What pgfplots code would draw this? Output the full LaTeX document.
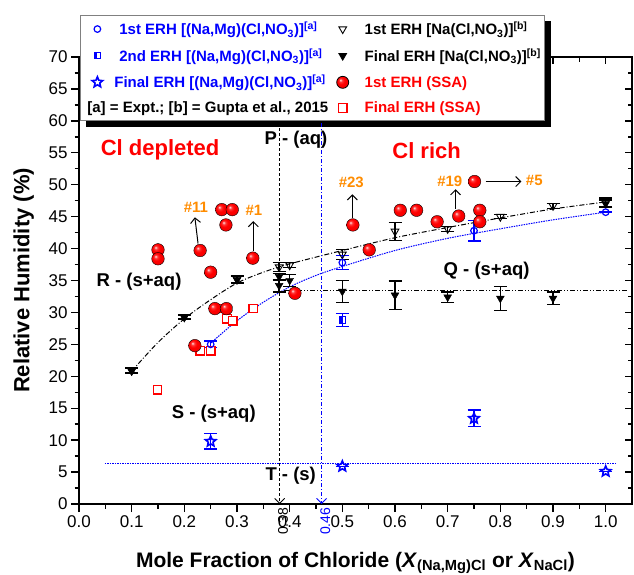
\documentclass[border=0pt]{standalone}
\usepackage{fontspec}
\setmainfont{Liberation Sans}
\usepackage{pgfplots}
\pgfplotsset{compat=1.18}
\usetikzlibrary{arrows.meta}
\definecolor{myorange}{RGB}{255,140,0}
\newcommand{\fs}[1]{\fontsize{#1}{#1}\selectfont}
\makeatletter
\pgfdeclareradialshading[tikz@ball]{ball}{\pgfqpoint{-10bp}{10bp}}{%
 color(0bp)=(tikz@ball!10!white); color(7bp)=(tikz@ball!80!white); color(15bp)=(tikz@ball);
 color(35bp)=(tikz@ball!92!black); color(50bp)=(tikz@ball!75!black)}
\makeatother
\pgfdeclareplotmark{fivestar}{%
  \pgfpathmoveto{\pgfqpointpolar{90}{\pgfplotmarksize}}%
  \pgfpathlineto{\pgfqpointpolar{126}{0.45\pgfplotmarksize}}%
  \pgfpathlineto{\pgfqpointpolar{162}{\pgfplotmarksize}}%
  \pgfpathlineto{\pgfqpointpolar{198}{0.45\pgfplotmarksize}}%
  \pgfpathlineto{\pgfqpointpolar{234}{\pgfplotmarksize}}%
  \pgfpathlineto{\pgfqpointpolar{270}{0.45\pgfplotmarksize}}%
  \pgfpathlineto{\pgfqpointpolar{306}{\pgfplotmarksize}}%
  \pgfpathlineto{\pgfqpointpolar{342}{0.45\pgfplotmarksize}}%
  \pgfpathlineto{\pgfqpointpolar{18}{\pgfplotmarksize}}%
  \pgfpathlineto{\pgfqpointpolar{54}{0.45\pgfplotmarksize}}%
  \pgfpathclose\pgfusepathqstroke}
\pgfdeclareplotmark{hsq}{%
  \pgfpathrectangle{\pgfqpoint{-\pgfplotmarksize}{-\pgfplotmarksize}}{\pgfqpoint{\pgfplotmarksize}{2\pgfplotmarksize}}%
  \pgfusepathqfill
  \pgfpathrectangle{\pgfqpoint{-\pgfplotmarksize}{-\pgfplotmarksize}}{\pgfqpoint{2\pgfplotmarksize}{2\pgfplotmarksize}}%
  \pgfusepathqstroke}
\pgfplotsset{legimg/.style={legend image code/.code={\path[draw=none,fill=none] (-15pt,-4pt) rectangle (20pt,4pt); \draw[##1] plot coordinates {(0pt,0pt)};}}}
\pgfdeclarelayer{bg}
\pgfsetlayers{bg,main}
\begin{document}
\begin{tikzpicture}[x=1pt,y=1pt]
\useasboundingbox (0,0) rectangle (634,574);
% frame with inward ticks on top and right
\begin{axis}[
  at={(79pt,70pt)}, anchor=south west,
  width=553pt, height=447pt, scale only axis,
  xmin=0, xmax=1.05, ymin=0, ymax=70,
  axis line style={line width=1.8pt},
  xtick={0,0.1,...,1.0}, ytick={0,5,...,70},
  minor x tick num=1, minor y tick num=1,
  xtick pos=right, ytick pos=right, tick align=inside,
  xticklabels={}, yticklabels={},
  major tick length=7pt, minor tick length=4.5pt,
  every tick/.style={line width=1.4pt, black},
]
\end{axis}
\begin{axis}[
  at={(79pt,70pt)}, anchor=south west,
  width=553pt, height=447pt, scale only axis,
  xmin=0, xmax=1.05, ymin=0, ymax=70,
  axis line style={line width=1.8pt},
  xtick={0,0.1,...,1.0}, ytick={0,5,...,70},
  minor x tick num=1, minor y tick num=1,
  xtick pos=left, ytick pos=left, tick align=outside,
  major tick length=8pt, minor tick length=4.5pt,
  every tick/.style={line width=1.4pt, black},
  /pgf/number format/assume math mode=true,
  xticklabel style={/pgf/number format/.cd, fixed, fixed zerofill, precision=1},
  every tick label/.append style={font=\fs{17}},
  extra x ticks={0.38,0.46},
  extra x tick labels={0.38,\textcolor{blue}{0.46}},
  extra x tick style={major tick length=0pt,
     tick label style={rotate=90, anchor=east, font=\fs{14}, yshift=-4pt}},
  xlabel={\bfseries Mole Fraction of Chloride (\textit{X}\textsubscript{(Na,Mg)Cl} or \textit{X}\textsubscript{NaCl})},
  ylabel={\bfseries Relative Humidity (\%)},
  every axis x label/.style={at={(axis description cs:0.5,-0.141)}, anchor=base, font=\fs{21}},
  every axis y label/.style={at={(axis description cs:-0.1,0.5)}, rotate=90, anchor=center, font=\fs{22}},
  clip=false,
  legend columns=2,
  legend cell align=left,
  legend style={
    name=leg,
    at={(axis description cs:0.0018,1.094)}, anchor=north west,
    draw=gray, line width=0.8pt, fill=white,
    font=\fs{15}\bfseries,
    row sep=8.3pt,
    column 2/.style={text width=216pt},
    column 4/.style={text width=166pt},
    inner xsep=2pt, inner ysep=4.5pt,
  },
]
% ---- curves and reference lines ----
\addplot[black, line width=1pt, dash pattern=on 5pt off 2pt on 1pt off 2pt, smooth, forget plot] coordinates {
(0.1,20.8) (0.15,25.3) (0.2,29.0) (0.25,32.0) (0.3,34.6) (0.35,36.3) (0.4,37.6) (0.5,39.7) (0.6,41.7) (0.7,43.3) (0.8,44.8) (0.9,46.2) (1.0,47.3)};
\addplot[blue, line width=1pt, dash pattern=on 1.5pt off 1pt, smooth, forget plot] coordinates {
(0.25,25.2) (0.3,28.7) (0.35,31.6) (0.4,34.0) (0.45,35.8) (0.5,37.2) (0.6,39.7) (0.7,41.6) (0.8,43.1) (0.9,44.5) (1.0,45.7)};
\addplot[black, line width=1pt, dash pattern=on 5pt off 2pt on 1pt off 2pt on 1pt off 2pt, forget plot] coordinates {(0.39,33.4) (1.04,33.4)};
\addplot[blue, line width=1.1pt, dash pattern=on 1.5pt off 1pt, forget plot] coordinates {(0.049,6.37) (1.02,6.37)};
\addplot[black, line width=0.9pt, densely dashed, -{Straight Barb[length=5pt]}, forget plot] coordinates {(0.381,59.6) (0.381,0)};
\addplot[blue, line width=0.9pt, dash pattern=on 4pt off 2pt on 1pt off 2pt, -{Straight Barb[length=5pt]}, forget plot] coordinates {(0.4605,59.6) (0.4605,0)};
% ---- Final ERH SSA (red open squares) ----
\addplot[only marks, color=red, mark=square*, mark size=4.2pt, mark options={draw=red, fill=white, line width=1.3pt}, forget plot] coordinates {
(0.149,17.9) (0.230,24.0) (0.250,24.0) (0.2675,30.6) (0.281,29.0) (0.292,28.7) (0.331,30.6)};
% ---- 1st ERH SSA (red balls) ----
\addplot[only marks, mark=ball, mark size=6.3pt, mark options={ball color=red}, forget plot] coordinates {
(0.15,39.8) (0.15,38.4) (0.23,39.7) (0.271,46.1) (0.291,46.1) (0.279,43.7) (0.33,38.5) (0.25,36.3)
(0.258,30.6) (0.28,30.6) (0.22,24.8) (0.41,33.0) (0.52,43.7) (0.551,39.8) (0.61,46.0) (0.641,46.0)
(0.68,44.2) (0.721,45.1) (0.761,46.0) (0.761,44.2) (0.751,50.5)};
% ---- Gupta final ERH (filled down triangles) ----
\addplot[only marks, black, mark=triangle*, mark size=4.5pt, mark options={rotate=180, fill=black}, forget plot,
  error bars/.cd, y dir=both, y explicit,
  error bar style={line width=1.4pt, black},
  error mark options={rotate=90, mark size=6.5pt, line width=1.4pt, black}] coordinates {
(0.1,20.8) +- (0,0.4) (0.2,29.2) +- (0,0.3) (0.3,35.1) +- (0,0.5)
(0.38,34.2) +- (0,1.0) (0.38,35.6) +- (0,0.5) (0.40,35.0) +- (0,0.9)
(0.5,33.3) +- (0,1.7) (0.6,32.7) +- (0,2.2) (0.7,32.4) +- (0,0.8) (0.8,32.2) +- (0,1.9) (0.9,32.2) +- (0,1.0) (1.0,47.0) +- (0,0.6)};
% ---- Gupta 1st ERH (open down triangles) ----
\addplot[only marks, black, mark=triangle, mark size=4.5pt, mark options={rotate=180, line width=0.9pt}, forget plot,
  error bars/.cd, y dir=both, y explicit,
  error bar style={line width=1.4pt, black},
  error mark options={rotate=90, mark size=6.5pt, line width=1.4pt, black}] coordinates {
(0.1,20.9) +- (0,0.4) (0.2,29.3) +- (0,0.3) (0.3,35.2) +- (0,0.5) (0.38,37.1) +- (0,0.7) (0.40,37.4) +- (0,0.4)
(0.5,39.1) +- (0,0.8) (0.6,42.7) +- (0,1.4) (0.7,43.1) +- (0,0.4) (0.8,45.0) +- (0,0.3) (0.9,46.7) +- (0,0.4) (1.0,47.2) +- (0,0.7)};
% ---- Expt. 1st ERH (blue open circles) ----
\addplot[only marks, blue, mark=o, mark size=3.3pt, mark options={line width=1.2pt}, forget plot,
  error bars/.cd, y dir=both, y explicit,
  error bar style={line width=1.4pt, blue},
  error mark options={rotate=90, mark size=6.5pt, line width=1.4pt, blue}] coordinates {
(0.25,25.0) +- (0,0.5) (0.5,37.8) +- (0,1.1) (0.75,42.8) +- (0,1.6) (1.0,45.7) +- (0,0)};
% ---- Expt. 2nd ERH (blue half squares) ----
\addplot[only marks, blue, mark=hsq, mark size=3.3pt, mark options={fill=blue, line width=1pt}, forget plot,
  error bars/.cd, y dir=both, y explicit,
  error bar style={line width=1.4pt, blue},
  error mark options={rotate=90, mark size=6.5pt, line width=1.4pt, blue}] coordinates {
(0.5,28.8) +- (0,1.0)};
% ---- Expt. final ERH (blue stars) ----
\addplot[only marks, blue, mark=fivestar, mark size=5.5pt, mark options={line width=1.6pt}, forget plot,
  error bars/.cd, y dir=both, y explicit,
  error bar style={line width=1.4pt, blue},
  error mark options={rotate=90, mark size=6.5pt, line width=1.4pt, blue}] coordinates {
(0.25,9.8) +- (0,1.2) (0.5,5.9) +- (0,0) (0.75,13.4) +- (0,1.3) (1.0,5.1) +- (0,0)};
% ---- legend (row by row) ----
\addlegendimage{only marks, blue, mark=o, mark size=3.3pt, mark options={line width=1.2pt}, legimg}
\addlegendentry{\textcolor{blue}{1st ERH [(Na,Mg)(Cl,NO\textsubscript{3})]\textsuperscript{[a]}}}
\addlegendimage{only marks, black, mark=triangle, mark size=4.5pt, mark options={rotate=180, line width=0.9pt}, legimg}
\addlegendentry{1st ERH [Na(Cl,NO\textsubscript{3})]\textsuperscript{[b]}}
\addlegendimage{only marks, blue, mark=hsq, mark size=3.3pt, mark options={fill=blue, line width=1pt}, legimg}
\addlegendentry{\textcolor{blue}{2nd ERH [(Na,Mg)(Cl,NO\textsubscript{3})]\textsuperscript{[a]}}}
\addlegendimage{only marks, black, mark=triangle*, mark size=4.5pt, mark options={rotate=180, fill=black}, legimg}
\addlegendentry{Final ERH [Na(Cl,NO\textsubscript{3})]\textsuperscript{[b]}}
\addlegendimage{only marks, blue, mark=fivestar, mark size=5.5pt, mark options={line width=1.6pt}, legimg}
\addlegendentry{\hspace*{-5pt}\textcolor{blue}{Final ERH [(Na,Mg)(Cl,NO\textsubscript{3})]\textsuperscript{[a]}}}
\addlegendimage{only marks, mark=ball, mark size=6pt, mark options={ball color=red}, legimg}
\addlegendentry{\textcolor{red}{1st ERH (SSA)}}
\addlegendimage{empty legend}
\addlegendentry{\makebox[0pt][l]{\kern-32pt[a] = Expt.; [b] = Gupta et al., 2015}}
\addlegendimage{only marks, red, mark=square*, mark size=4.2pt, mark options={draw=red, fill=white, line width=1.2pt}, legimg}
\addlegendentry{\textcolor{red}{Final ERH (SSA)}}
% ---- annotations ----
\node[red, font=\fs{22}\bfseries] at (axis cs:0.154,55.4) {Cl depleted};
\node[red, font=\fs{22}\bfseries] at (axis cs:0.660,55.4) {Cl rich};
\node[font=\fs{18.5}\bfseries] at (axis cs:0.412,57.0) {P - (aq)};
\node[font=\fs{18.5}\bfseries] at (axis cs:0.114,34.8) {R - (s+aq)};
\node[font=\fs{18.5}\bfseries] at (axis cs:0.774,36.6) {Q - (s+aq)};
\node[font=\fs{18.5}\bfseries] at (axis cs:0.256,14.2) {S - (s+aq)};
\node[font=\fs{18.5}\bfseries] at (axis cs:0.402,4.4) {T - (s)};
\node[myorange, font=\fs{15}\bfseries] at (axis cs:0.222,46.4) {\#11};
\node[myorange, font=\fs{15}\bfseries] at (axis cs:0.332,46.0) {\#1};
\node[myorange, font=\fs{15}\bfseries] at (axis cs:0.517,50.3) {\#23};
\node[myorange, font=\fs{15}\bfseries] at (axis cs:0.704,50.6) {\#19};
\node[myorange, font=\fs{15}\bfseries, anchor=west] at (axis cs:0.842,50.6) {\#5};
\draw[-{Straight Barb[length=5pt]}, line width=1pt] (axis cs:0.226,40.8) -- (axis cs:0.22,44.9);
\draw[-{Straight Barb[length=5pt]}, line width=1pt] (axis cs:0.331,39.6) -- (axis cs:0.331,44.3);
\draw[-{Straight Barb[length=5pt]}, line width=1pt] (axis cs:0.519,44.8) -- (axis cs:0.519,48.5);
\draw[-{Straight Barb[length=5pt]}, line width=1pt] (axis cs:0.715,46.2) -- (axis cs:0.715,49.3);
\draw[-{Straight Barb[length=5pt]}, line width=1pt] (axis cs:0.772,50.5) -- (axis cs:0.84,50.5);
\end{axis}
\begin{pgfonlayer}{bg}
\fill[black] ([shift={(6pt,-6pt)}]leg.south west) rectangle ([shift={(6pt,-6pt)}]leg.north east);
\end{pgfonlayer}
\end{tikzpicture}
\end{document}
